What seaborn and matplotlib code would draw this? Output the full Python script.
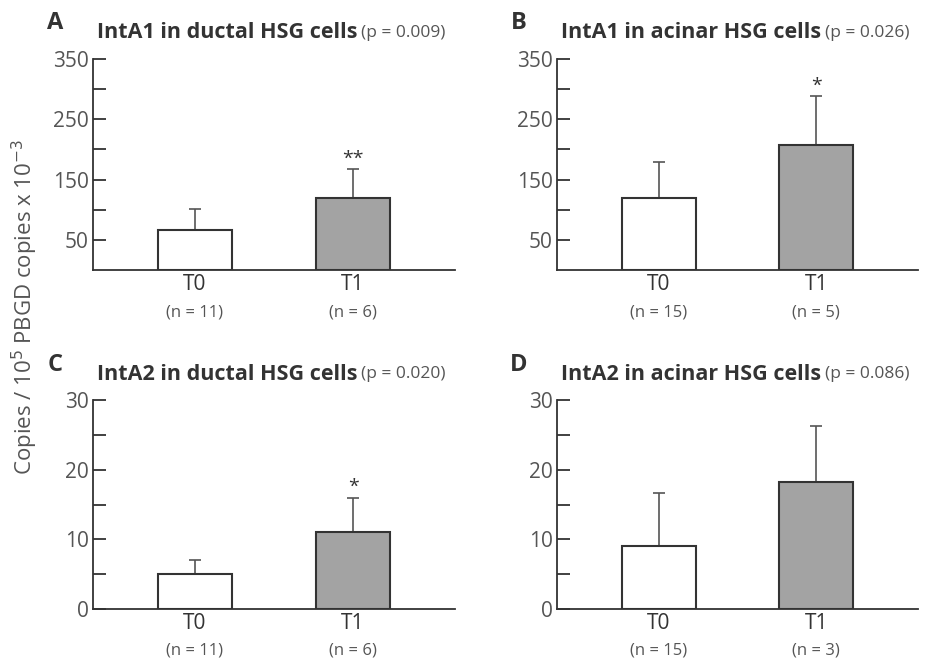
import numpy as np
import pandas as pd
import seaborn as sns
import matplotlib.pyplot as plt
from matplotlib.transforms import blended_transform_factory

# data
panel_letters = ['A', 'B', 'C', 'D']
panel_titles = ['IntA1 in ductal HSG cells', 'IntA1 in acinar HSG cells',
                'IntA2 in ductal HSG cells', 'IntA2 in acinar HSG cells']
p_values = ['(p = 0.009)', '(p = 0.026)', '(p = 0.020)', '(p = 0.086)']
groups = ['T0', 'T1']
mean_t0 = [67, 120, 5.0, 9.1]
mean_t1 = [120, 208, 11.0, 18.3]
sd_t0 = [35, 60, 2.1, 7.5]
sd_t1 = [48, 80, 5.0, 8.0]
n_t0 = [11, 15, 11, 15]
n_t1 = [6, 5, 6, 3]
stars = ['**', '*', '*', '']

sns.set_style('white')
plt.rcParams['font.family'] = ['Open Sans', 'DejaVu Sans']

dark = '#333333'
grey_txt = '#555555'

fig = plt.figure(figsize=(9.33, 6.63), dpi=100)
positions = [[0.0997, 0.5928, 0.388, 0.318],
             [0.597, 0.5928, 0.387, 0.318],
             [0.0997, 0.0814, 0.388, 0.315],
             [0.597, 0.0814, 0.387, 0.315]]

for i in range(4):
    ax = fig.add_axes(positions[i])
    df = pd.DataFrame({'group': groups, 'value': [mean_t0[i], mean_t1[i]]})
    sns.barplot(data=df, x='group', y='value', hue='group', ax=ax,
                palette={'T0': 'white', 'T1': '#a3a3a3'}, edgecolor=dark,
                linewidth=1.5, width=0.47, legend=False, zorder=3)
    ax.errorbar([0, 1], [mean_t0[i], mean_t1[i]], yerr=[[0, 0], [sd_t0[i], sd_t1[i]]],
                fmt='none', ecolor='#555555', elinewidth=1.2, capsize=4.5, capthick=1.2, zorder=2)

    if i < 2:
        ax.set_ylim(0, 350)
        ax.set_yticks([50, 150, 250, 350])
        ax.set_yticks([100, 200, 300], minor=True)
    else:
        ax.set_ylim(0, 30)
        ax.set_yticks([0, 10, 20, 30])
        ax.set_yticks([5, 15, 25], minor=True)
    ax.set_xlim(-0.645, 1.645)

    sns.despine(ax=ax)
    for s in ['left', 'bottom']:
        ax.spines[s].set_color(dark)
        ax.spines[s].set_linewidth(1.3)
    ax.tick_params(axis='y', which='both', direction='in', length=9, width=1.3,
                   color=dark, pad=3, labelsize=15, labelcolor=grey_txt, left=True)
    ax.tick_params(axis='x', length=0, pad=3, labelsize=15, labelcolor=dark)
    ax.set_xlabel('')
    ax.set_ylabel('')

    # sample sizes under the group labels
    trans = blended_transform_factory(ax.transData, ax.transAxes)
    for x, n in zip([0, 1], [n_t0[i], n_t1[i]]):
        ax.text(x, -0.2, f'(n = {n})', transform=trans, ha='center', va='center',
                fontsize=12, color=grey_txt)

    # significance stars
    if stars[i]:
        ax.annotate(stars[i], xy=(1, mean_t1[i] + sd_t1[i]), xytext=(0, 1),
                    textcoords='offset points', ha='center', va='bottom',
                    fontsize=14, color=dark)

    # panel letter and title
    ax.text(-0.105, 1.17, panel_letters[i], transform=ax.transAxes, ha='center',
            va='center', fontsize=17, fontweight='bold', color=dark)
    t = ax.text(0.01, 1.125, panel_titles[i], transform=ax.transAxes, ha='left',
                va='center', fontsize=15.5, fontweight='bold', color=dark)
    ax.annotate(p_values[i], xy=(1, 0.5), xycoords=t, xytext=(3, 0),
                textcoords='offset points', ha='left', va='center',
                fontsize=12.5, color=grey_txt)

fig.text(0.027, 0.537, r'Copies / 10$^5$ PBGD copies x 10$^{-3}$', rotation=90,
         ha='center', va='center', fontsize=16, color=grey_txt)

fig.savefig('out.png', dpi=100)
